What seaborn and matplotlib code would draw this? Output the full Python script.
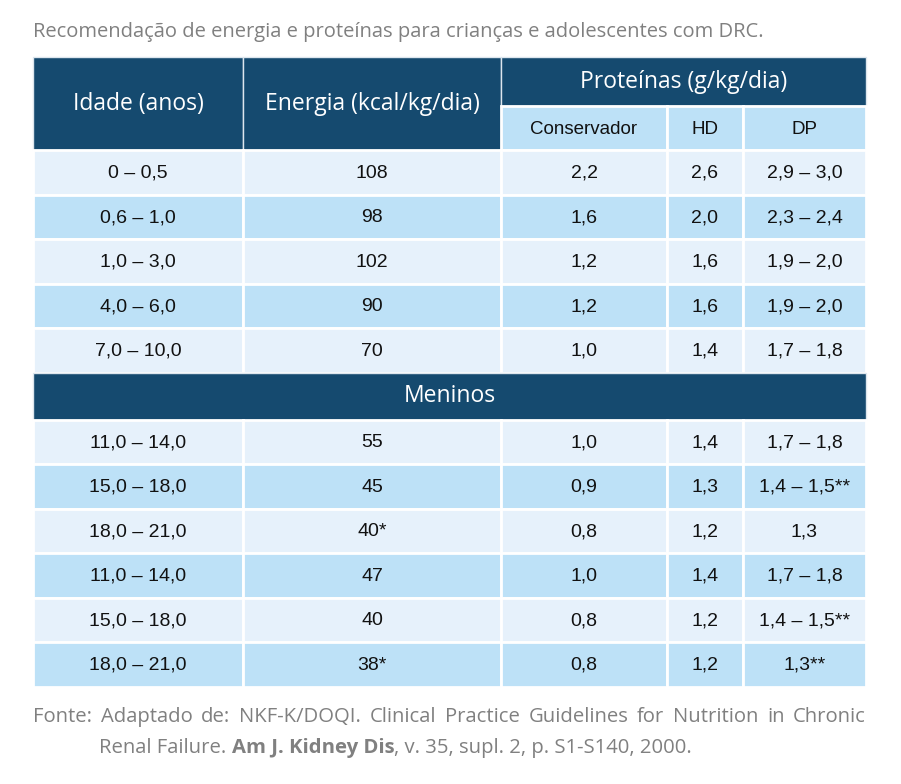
import matplotlib
matplotlib.use("Agg")
import matplotlib.pyplot as plt
import seaborn as sns

# --- Table data ---
idade_1 = ["0 – 0,5", "0,6 – 1,0", "1,0 – 3,0", "4,0 – 6,0", "7,0 – 10,0"]
energia_1 = ["108", "98", "102", "90", "70"]
conservador_1 = ["2,2", "1,6", "1,2", "1,2", "1,0"]
hd_1 = ["2,6", "2,0", "1,6", "1,6", "1,4"]
dp_1 = ["2,9 – 3,0", "2,3 – 2,4", "1,9 – 2,0", "1,9 – 2,0", "1,7 – 1,8"]

grupo_label = "Meninos"
idade_2 = ["11,0 – 14,0", "15,0 – 18,0", "18,0 – 21,0", "11,0 – 14,0", "15,0 – 18,0", "18,0 – 21,0"]
energia_2 = ["55", "45", "40*", "47", "40", "38*"]
conservador_2 = ["1,0", "0,9", "0,8", "1,0", "0,8", "0,8"]
hd_2 = ["1,4", "1,3", "1,2", "1,4", "1,2", "1,2"]
dp_2 = ["1,7 – 1,8", "1,4 – 1,5**", "1,3", "1,7 – 1,8", "1,4 – 1,5**", "1,3**"]

col_headers = ["Idade (anos)", "Energia (kcal/kg/dia)"]
prot_header = "Proteínas (g/kg/dia)"
sub_headers = ["Conservador", "HD", "DP"]

caption = "Recomendação de energia e proteínas para crianças e adolescentes com DRC."
fonte_l1 = ("Fonte: Adaptado de: NKF-K/DOQI. Clinical Practice Guidelines "
            "for Nutrition in Chronic")
fonte_l2 = [("Renal Failure. ", "normal"), ("Am J. Kidney Dis", "bold"),
            (", v. 35, supl. 2, p. S1-S140, 2000.", "normal")]

# --- Style ---
NAVY = "#154A6F"
LIGHT = "#E6F1FB"
BLUE = "#BDE1F7"
GREY = "#808080"

sns.set_theme(style="white")
HEAD_FONT = ["Open Sans", "DejaVu Sans"]
BODY_FONT = ["Liberation Sans", "DejaVu Sans"]
plt.rcParams["font.family"] = HEAD_FONT

# layout (pixel coordinates)
col_edges = [33, 243, 501, 667, 743, 866]
head_top, head_mid, head_bot = 57, 106, 150
row_h = 44.5
band_h = 47

fig = plt.figure(figsize=(9.01, 7.84), dpi=100)
ax = fig.add_axes([0, 0, 1, 1])
ax.set_xlim(0, 901)
ax.set_ylim(784, 0)
ax.axis("off")

lefts = col_edges[:-1]
widths = [b - a for a, b in zip(col_edges[:-1], col_edges[1:])]
centers = [a + w / 2 for a, w in zip(lefts, widths)]


def draw_rows(columns, top):
    n = len(columns[0])
    ys = [top + (i + 0.5) * row_h for i in range(n)]
    colors = [LIGHT if i % 2 == 0 else BLUE for i in range(n)]
    for j, col in enumerate(columns):
        ax.barh(ys, [widths[j]] * n, left=lefts[j], height=row_h, color=colors,
                edgecolor="white", linewidth=2)
        for i, val in enumerate(col):
            ax.text(centers[j], ys[i] + 1, val, ha="center", va="center",
                    fontsize=14, color="#111111", family=BODY_FONT)
    return top + n * row_h


# header block
ax.barh([(head_top + head_bot) / 2] * 2, [widths[0], widths[1]], left=lefts[:2],
        height=head_bot - head_top, color=NAVY, edgecolor="#DDE6EE", linewidth=1)
ax.barh([(head_top + head_mid) / 2], [col_edges[-1] - col_edges[2]], left=col_edges[2],
        height=head_mid - head_top, color=NAVY, edgecolor="#DDE6EE", linewidth=1)
ax.barh([(head_mid + head_bot) / 2] * 3, widths[2:], left=lefts[2:],
        height=head_bot - head_mid, color=BLUE, edgecolor="white", linewidth=2)
for j, h in enumerate(col_headers):
    ax.text(centers[j], (head_top + head_bot) / 2, h, ha="center", va="center",
            fontsize=16.5, color="white")
ax.text((col_edges[2] + col_edges[-1]) / 2, (head_top + head_mid) / 2, prot_header,
        ha="center", va="center", fontsize=16.5, color="white")
for j, h in enumerate(sub_headers):
    ax.text(centers[j + 2], (head_mid + head_bot) / 2 + 1, h, ha="center", va="center",
            fontsize=13.5, color="#111111", family=BODY_FONT)

# body
y = draw_rows([idade_1, energia_1, conservador_1, hd_1, dp_1], head_bot)
ax.barh([y + band_h / 2], [col_edges[-1] - col_edges[0]], left=col_edges[0],
        height=band_h, color=NAVY, edgecolor="#DDE6EE", linewidth=1)
ax.text((col_edges[0] + col_edges[-1]) / 2, y + band_h / 2, grupo_label,
        ha="center", va="center", fontsize=16.5, color="white")
y = draw_rows([idade_2, energia_2, conservador_2, hd_2, dp_2], y + band_h)

# caption
ax.text(33, 32, caption, ha="left", va="center", fontsize=14.5, color=GREY)

# source note, first line justified across the table width
fig.canvas.draw()
renderer = fig.canvas.get_renderer()
inv = ax.transData.inverted()


def text_width(t):
    bb = t.get_window_extent(renderer)
    p0 = inv.transform((bb.x0, bb.y0))
    p1 = inv.transform((bb.x1, bb.y0))
    return p1[0] - p0[0]


note_kw = dict(va="center", fontsize=14.6, color=GREY)
words = fonte_l1.split(" ")
arts = [ax.text(0, 717, w, ha="left", **note_kw) for w in words]
wsum = sum(text_width(a) for a in arts)
gap = (col_edges[-1] - col_edges[0] - wsum) / (len(words) - 1)
x = col_edges[0]
for a in arts:
    a.set_x(x)
    x += text_width(a) + gap

x = 99
for part, weight in fonte_l2:
    t = ax.text(x, 748, part, ha="left", fontweight=weight, **note_kw)
    x += text_width(t)

fig.savefig("out.png", dpi=100)
